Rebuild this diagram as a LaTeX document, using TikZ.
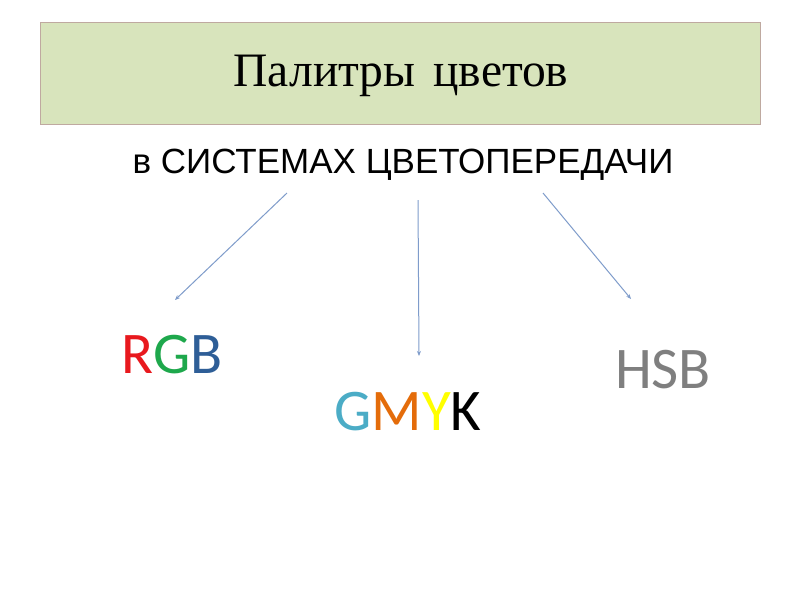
\documentclass[tikz,border=0pt]{standalone}
\usepackage{fontspec}
\setmainfont{Liberation Serif}
\newfontfamily\arialf{Liberation Sans}
\newfontfamily\calf{Carlito}
\usetikzlibrary{arrows.meta}
\definecolor{boxfill}{HTML}{D8E4BC}
\definecolor{boxline}{HTML}{BFA9A0}
\definecolor{arr}{HTML}{7F9CCB}
\definecolor{cR}{HTML}{E8191E}
\definecolor{cG}{HTML}{1EA84C}
\definecolor{cB}{HTML}{2E5E97}
\definecolor{cC}{HTML}{4BACC6}
\definecolor{cM}{HTML}{E46C0A}
\definecolor{cY}{HTML}{FFFF00}
\definecolor{cH}{HTML}{7F7F7F}
\tikzset{
  link/.style={draw=arr, line width=1pt, -{Stealth[length=5pt,width=4pt]}},
  label/.style={inner sep=0pt, font=\calf\fontsize{59}{64}\selectfont}
}
\begin{document}
\begin{tikzpicture}[x=1pt,y=-1pt]
\useasboundingbox (0,0) rectangle (800,600);
\fill[white] (0,0) rectangle (800,600);
\node[draw=boxline, line width=1.2pt, fill=boxfill, minimum width=720pt, minimum height=102pt, anchor=north west, inner sep=0pt] (title) at (40,22) {};
\node[font=\fontsize{48}{54}\selectfont, xscale=0.99] (tt) at (401,76) {Палитры\hspace{6pt} цветов};
\node[font=\arialf\fontsize{35}{40}\selectfont] (sub) at (403,165) {в СИСТЕМАХ ЦВЕТОПЕРЕДАЧИ};
\node[label] (rgb) at (172,355) {\textcolor{cR}{R}\textcolor{cG}{G}\textcolor{cB}{B}};
\node[label] (gmyk) at (408,412) {\textcolor{cC}{G}\textcolor{cM}{M}\textcolor{cY}{Y}\textcolor{black}{K}};
\node[label, text=cH] (hsb) at (663,370) {HSB};
\coordinate (a1) at (287,193);
\coordinate (b1) at (175,300);
\coordinate (a2) at (418,200);
\coordinate (b2) at (419,356);
\coordinate (a3) at (543,193);
\coordinate (b3) at (631,299);
\draw[link] (a1) -- (b1);
\draw[link] (a2) -- (b2);
\draw[link] (a3) -- (b3);
\end{tikzpicture}
\end{document}
